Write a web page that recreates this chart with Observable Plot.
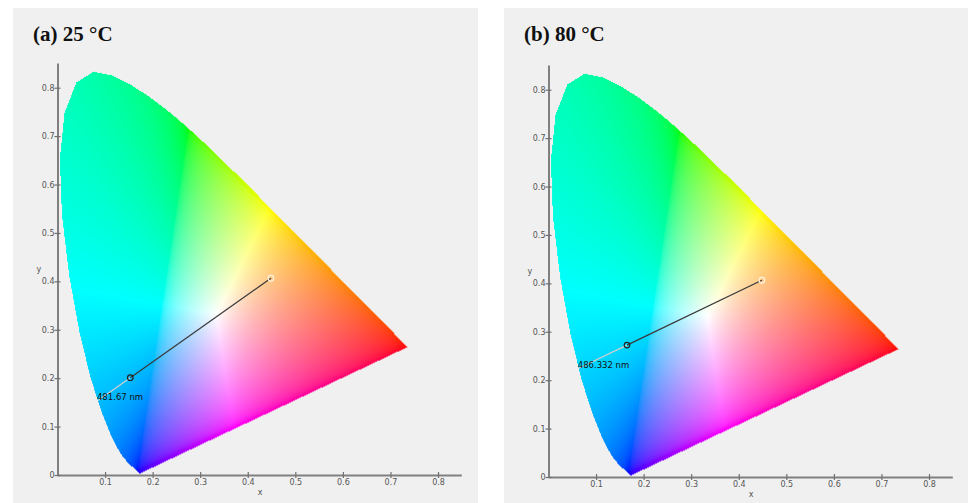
<!DOCTYPE html>
<html><head><meta charset="utf-8">
<script src="https://cdn.jsdelivr.net/npm/d3@7"></script>
<script src="https://cdn.jsdelivr.net/npm/@observablehq/plot@0.6"></script>
<style>
body{margin:0;background:#fff;width:968px;height:503px;overflow:hidden;position:relative;}
.panel{position:absolute;top:8px;height:495px;background:#f0f0f0;overflow:hidden}
.title{position:absolute;left:20px;top:14px;font:bold 21px "Liberation Serif",serif;color:#111;white-space:nowrap}
.chart{position:absolute;left:0}
</style></head><body>
<script>
// Panels
const panelTitles = ["(a) 25 °C", "(b) 80 °C"];
// Measured chromaticity of the sample
const sampleX = [0.152, 0.164];
const sampleY = [0.202, 0.2735];
// Reference white (illuminant A)
const whiteX = [0.4476, 0.4476];
const whiteY = [0.4074, 0.4074];
// Dominant wavelength point on the spectral locus
const dominantX = [0.084, 0.0625];
const dominantY = [0.155, 0.2257];
const dominantLabels = ["481.67 nm", "486.332 nm"];
// Axes
const axisDomain = [0, 0.85];
const xTicks = [0.1, 0.2, 0.3, 0.4, 0.5, 0.6, 0.7, 0.8];
const yTicks = [0, 0.1, 0.2, 0.3, 0.4, 0.5, 0.6, 0.7, 0.8];
// CIE 1931 2° spectral locus
const locusWavelength = [380,400,410,420,430,435,440,445,450,455,460,465,470,475,480,485,490,495,500,505,510,515,520,525,530,535,540,545,550,555,560,565,570,575,580,585,590,595,600,605,610,615,620,625,630,635,640,650,660,700];
const locusX = [0.1741,0.1733,0.1726,0.1714,0.1689,0.1669,0.1644,0.1611,0.1566,0.1510,0.1440,0.1355,0.1241,0.1096,0.0913,0.0687,0.0454,0.0235,0.0082,0.0039,0.0139,0.0389,0.0743,0.1142,0.1547,0.1929,0.2296,0.2658,0.3016,0.3373,0.3731,0.4087,0.4441,0.4788,0.5125,0.5448,0.5752,0.6029,0.6270,0.6482,0.6658,0.6801,0.6915,0.7006,0.7079,0.7140,0.7190,0.7260,0.7300,0.7347];
const locusY = [0.0050,0.0048,0.0048,0.0051,0.0069,0.0086,0.0109,0.0138,0.0177,0.0227,0.0297,0.0399,0.0578,0.0868,0.1327,0.2007,0.2950,0.4127,0.5384,0.6548,0.7502,0.8120,0.8338,0.8262,0.8059,0.7816,0.7543,0.7243,0.6923,0.6589,0.6245,0.5896,0.5547,0.5202,0.4866,0.4544,0.4242,0.3965,0.3725,0.3514,0.3340,0.3197,0.3083,0.2993,0.2920,0.2859,0.2809,0.2740,0.2700,0.2653];

const locusPts = locusX.map((x, i) => [x, locusY[i]]);

function gammaEnc(v) {
  return v <= 0.0031308 ? 12.92 * v : 1.055 * Math.pow(v, 1 / 2.4) - 0.055;
}
function chromaColor(x, y) {
  if (!d3.polygonContains(locusPts, [x, y])) return null;
  const X = x / y, Y = 1, Z = (1 - x - y) / y;
  let r = 2.3646 * X - 0.8965 * Y - 0.4681 * Z;
  let g = -0.5152 * X + 1.4264 * Y + 0.0888 * Z;
  let b = 0.0052 * X - 0.0144 * Y + 1.0092 * Z;
  const m = Math.min(r, g, b);
  if (m < 0) { r -= m; g -= m; b -= m; }
  const M = Math.max(r, g, b);
  r = gammaEnc(r / M); g = gammaEnc(g / M); b = gammaEnc(b / M);
  return `rgb(${Math.round(r * 255)},${Math.round(g * 255)},${Math.round(b * 255)})`;
}

const panelLefts = [13, 504];
const panelWidths = [465, 464];
const chartTops = [40, 41.7];
const fmt = d => d === 0 ? "0" : d3.format(".1f")(d);

panelTitles.forEach((title, i) => {
  const panel = document.createElement("div");
  panel.className = "panel";
  panel.style.left = panelLefts[i] + "px";
  panel.style.width = panelWidths[i] + "px";
  const t = document.createElement("div");
  t.className = "title";
  t.textContent = title;
  panel.appendChild(t);

  const W = panelWidths[i];
  const chart = Plot.plot({
    width: W,
    height: 455,
    marginLeft: 44.5,
    marginRight: W - 44.5 - 404.3,
    marginTop: 15.5,
    marginBottom: 28,
    style: {background: "transparent", fontFamily: "'DejaVu Sans', sans-serif", fontSize: "8px"},
    x: {domain: axisDomain, axis: null},
    y: {domain: axisDomain, axis: null},
    color: {type: "identity"},
    marks: [
      Plot.raster({x1: axisDomain[0], x2: axisDomain[1], y1: axisDomain[0], y2: axisDomain[1], fill: chromaColor}),
      Plot.link([i], {x1: d => sampleX[d], y1: d => sampleY[d], x2: d => dominantX[d], y2: d => dominantY[d], stroke: "#cfcfcf", strokeWidth: 1.2}),
      Plot.link([i], {x1: d => whiteX[d], y1: d => whiteY[d], x2: d => sampleX[d], y2: d => sampleY[d], stroke: "#3a3a3a", strokeWidth: 1.3}),
      Plot.dot([i], {x: d => whiteX[d], y: d => whiteY[d], r: 2.8, stroke: "#fff2e2", strokeWidth: 1.2, fill: "none"}),
      Plot.dot([i], {x: d => sampleX[d], y: d => sampleY[d], r: 2.8, stroke: "#222", strokeWidth: 1.2, fill: "none"}),
      Plot.text([i], {x: d => dominantX[d], y: d => dominantY[d], text: d => dominantLabels[d], textAnchor: "start", dy: -3, dx: -1, fill: "#111", fontSize: 8.5}),
      // axis lines
      Plot.ruleY([axisDomain[0]], {stroke: "#808080", strokeWidth: 2}),
      Plot.ruleX([axisDomain[0]], {stroke: "#808080", strokeWidth: 2}),
      // tick marks crossing the axes
      Plot.ruleX(xTicks, {x: d => d, y1: axisDomain[0], y2: axisDomain[0], insetTop: -3, insetBottom: -3, stroke: "#707070", strokeWidth: 1.2}),
      Plot.ruleY(yTicks, {y: d => d, x1: axisDomain[0], x2: axisDomain[0], insetLeft: -3, insetRight: -3, stroke: "#707070", strokeWidth: 1.2}),
      // tick labels
      Plot.text(xTicks, {x: d => d, frameAnchor: "bottom", dy: 9.5, text: fmt, fill: "#555"}),
      Plot.text(yTicks, {y: d => d, frameAnchor: "left", textAnchor: "end", dx: -3.5, text: fmt, fill: "#555"}),
      // axis labels
      Plot.text(["x"], {frameAnchor: "bottom", dy: 19, fill: "#555"}),
      Plot.text(["y"], {frameAnchor: "left", dx: -21.5, fill: "#555"})
    ]
  });
  chart.classList.add("chart");
  chart.style.top = chartTops[i] + "px";
  panel.appendChild(chart);
  document.body.appendChild(panel);
});
</script>
</body></html>
